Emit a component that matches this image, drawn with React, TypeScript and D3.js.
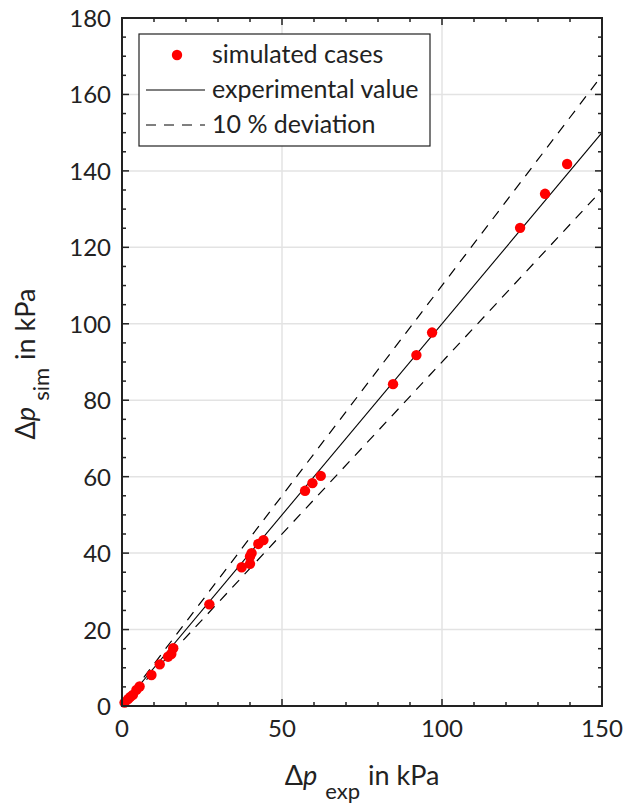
import React from "react";
import * as d3 from "d3";

const expValues = [0.8, 1.9, 2.6, 3.4, 4.5, 5.5, 9.2, 11.8, 14.4, 15.4, 16.0, 27.3, 37.4, 40.0, 40.0, 40.5, 42.6, 44.2, 57.2, 59.5, 62.1, 84.7, 92.0, 96.9, 124.4, 132.2, 139.1];
const simValues = [0.9, 1.8, 2.4, 2.9, 4.2, 5.1, 8.1, 10.9, 12.9, 13.6, 15.1, 26.6, 36.3, 37.2, 39.1, 40.0, 42.4, 43.4, 56.3, 58.3, 60.2, 84.2, 91.8, 97.7, 125.1, 134.0, 141.8];
const xTicks = [0, 50, 100, 150];
const yTicks = [0, 20, 40, 60, 80, 100, 120, 140, 160, 180];
const legendLabels = ["simulated cases", "experimental value", "10 % deviation"];

const FONT = "Lato, 'Open Sans', sans-serif";

export default function App() {
  const W = 628, H = 807;
  const left = 122, right = 602, top = 18, bottom = 706;
  const x = d3.scaleLinear().domain([0, 150]).range([left, right]);
  const y = d3.scaleLinear().domain([0, 180]).range([bottom, top]);
  const xMinor = d3.range(0, 151, 10);
  const yMinor = d3.range(0, 181, 5);
  const lineGen = d3.line<[number, number]>().x(d => x(d[0])).y(d => y(d[1]));
  const refLine: [number, number][] = [[0, 0], [150, 150]];
  const upLine: [number, number][] = [[0, 0], [150, 165]];
  const loLine: [number, number][] = [[0, 0], [150, 135]];
  const pts = expValues.map((v, i) => [v, simValues[i]]);
  const fs = 24;
  const lfs = 25;

  return (
    <svg width={W} height={H} style={{ position: "absolute", left: 0, top: 0 }} fontFamily={FONT}>
      <defs>
        <clipPath id="plotclip">
          <rect x={left} y={top} width={right - left} height={bottom - top} />
        </clipPath>
      </defs>
      <rect x={0} y={0} width={W} height={H} fill="#fff" />
      {/* grid */}
      {xTicks.slice(1, -1).map(t => (
        <line key={"gx" + t} x1={x(t)} x2={x(t)} y1={top} y2={bottom} stroke="#e3e3e3" strokeWidth={1.5} />
      ))}
      {yTicks.slice(1, -1).map(t => (
        <line key={"gy" + t} x1={left} x2={right} y1={y(t)} y2={y(t)} stroke="#e3e3e3" strokeWidth={1.5} />
      ))}
      {/* lines */}
      <g clipPath="url(#plotclip)">
        <path d={lineGen(refLine) || ""} stroke="#000" strokeWidth={1.1} fill="none" />
        <path d={lineGen(upLine) || ""} stroke="#000" strokeWidth={1.2} fill="none" strokeDasharray="10,8" />
        <path d={lineGen(loLine) || ""} stroke="#000" strokeWidth={1.2} fill="none" strokeDasharray="10,8" />
      </g>
      {/* points */}
      {pts.map((p, i) => (
        <circle key={"p" + i} cx={x(p[0])} cy={y(p[1])} r={5.2} fill="#ff0000" />
      ))}
      {/* frame */}
      <rect x={left} y={top} width={right - left} height={bottom - top} fill="none" stroke="#222" strokeWidth={2} />
      {/* ticks */}
      {xMinor.map(t => {
        const major = t % 50 === 0;
        const len = major ? 7 : 4;
        return (
          <g key={"xt" + t}>
            <line x1={x(t)} x2={x(t)} y1={bottom} y2={bottom - len} stroke="#222" strokeWidth={1.5} />
            <line x1={x(t)} x2={x(t)} y1={top} y2={top + len} stroke="#222" strokeWidth={1.5} />
          </g>
        );
      })}
      {yMinor.map(t => {
        const major = t % 20 === 0;
        const len = major ? 7 : 4;
        return (
          <g key={"yt" + t}>
            <line x1={left} x2={left + len} y1={y(t)} y2={y(t)} stroke="#222" strokeWidth={1.5} />
            <line x1={right} x2={right - len} y1={y(t)} y2={y(t)} stroke="#222" strokeWidth={1.5} />
          </g>
        );
      })}
      {/* tick labels */}
      {xTicks.map(t => (
        <text key={"xl" + t} x={x(t)} y={bottom + 31} textAnchor="middle" fontSize={fs} fill="#222">{t}</text>
      ))}
      {yTicks.map(t => (
        <text key={"yl" + t} x={left - 11} y={y(t) + 9} textAnchor="end" fontSize={fs} fill="#222">{t}</text>
      ))}
      {/* axis labels */}
      <text x={362} y={785} textAnchor="middle" fontSize={27} fill="#222">
        <tspan>Δ</tspan><tspan fontStyle="italic">p</tspan>
        <tspan fontSize={22} dy={14} dx={8}>exp</tspan>
        <tspan dy={-14} dx={8}>in kPa</tspan>
      </text>
      <text transform={`translate(35,364) rotate(-90)`} textAnchor="middle" fontSize={27} fill="#222">
        <tspan>Δ</tspan><tspan fontStyle="italic">p</tspan>
        <tspan fontSize={22} dy={14} dx={6}>sim</tspan>
        <tspan dy={-14} dx={8}>in kPa</tspan>
      </text>
      {/* legend */}
      <rect x={139} y={34} width={291} height={112} fill="#fff" stroke="#222" strokeWidth={1.2} />
      <circle cx={177} cy={55} r={5.2} fill="#ff0000" />
      <line x1={146} x2={205} y1={90} y2={90} stroke="#000" strokeWidth={1} />
      <line x1={146} x2={205} y1={125} y2={125} stroke="#000" strokeWidth={1} strokeDasharray="10,8" />
      {legendLabels.map((l, i) => (
        <text key={"lg" + i} x={212} y={63 + i * 35} fontSize={lfs} fill="#222">{l}</text>
      ))}
    </svg>
  );
}
